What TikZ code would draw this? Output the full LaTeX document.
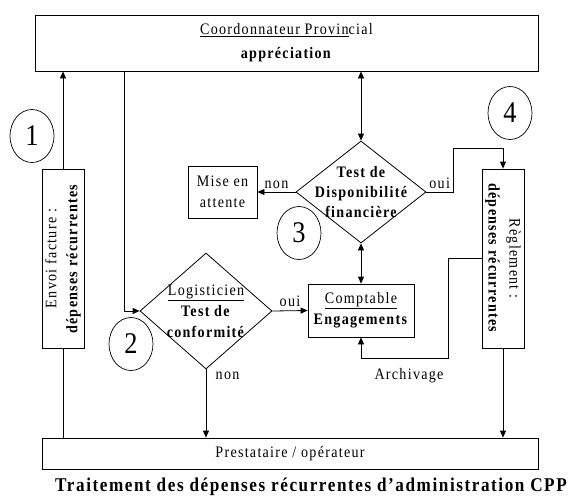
\documentclass[tikz,border=0pt]{standalone}
\usepackage{fontspec}
\setmainfont{Liberation Serif}[FakeStretch=0.88,LetterSpace=8]
\usetikzlibrary{shapes.geometric,arrows.meta}

\begin{document}
\begin{tikzpicture}[x=1pt,y=-1pt,
  every node/.style={font=\fontsize{16}{21}\selectfont},
  box/.style={draw,line width=0.8pt,inner sep=0pt,align=center},
  decision/.style={draw,diamond,line width=0.8pt,inner sep=0pt},
  num/.style={draw,ellipse,line width=0.7pt,minimum width=44pt,minimum height=53pt,inner sep=0pt,font=\fontsize{30}{30}\selectfont},
  flow/.style={line width=0.8pt,-{Triangle[length=7pt,width=6pt]}},
  dflow/.style={line width=0.8pt,{Triangle[length=7pt,width=6pt]}-{Triangle[length=7pt,width=6pt]}},
  link/.style={line width=0.8pt}]
\useasboundingbox (0,0) rectangle (574,499);

% boxes
\node[box,minimum width=503pt,minimum height=56pt] (coord) at (286.5,43)
  {\underline{Coordonnateur Provin}cial\\[3pt]\textbf{appréciation}};
\node[box,rotate=90,minimum width=179pt,minimum height=42pt] (envoi) at (63,258.5)
  {Envoi facture :\\\textbf{dépenses récurrentes}};
\node[box,rotate=-90,minimum width=179pt,minimum height=42pt] (regl) at (503,258.5)
  {Règlement :\\\textbf{dépenses récurrentes}};
\node[box,minimum width=69pt,minimum height=52pt] (mise) at (222.5,192) {Mise en\\attente};
\node[box,minimum width=106pt,minimum height=53pt] (compt) at (361,310.5)
  {\underline{Comptable}\\\textbf{Engagements}};
\node[box,minimum width=496pt,minimum height=31pt] (presta) at (290,453.5) {Prestataire / opérateur};

% tests
\node[decision,minimum width=132pt,minimum height=116pt] (logist) at (206,311) {};
\node[align=center] (logistT) at (logist) {\underline{Logisticien}\\\textbf{Test de}\\\textbf{conformité}};
\node[decision,minimum width=130pt,minimum height=102pt] (disp) at (361,192) {};
\node[align=center,font=\fontsize{16}{20}\selectfont\bfseries] (dispT) at (disp) {Test de\\Disponibilité\\financière};

% numbered steps
\foreach \n/\x/\y in {1/32/136, 2/131/344, 3/299/233, 4/510/113}
  \node[num] (c\n) at (\x,\y) {\n};

% connectors (envoi: east = top, west = bottom; regl: west = top, east = bottom, south = left)
\coordinate (tap) at (124,71);
\coordinate (oui4) at (453,148);
\coordinate (arch) at (448,358);
\draw[flow] (envoi.east) -- (envoi.east |- coord.south);
\draw[link] (envoi.west) -- (envoi.west |- presta.north);
\draw[flow] (tap) |- (logist.west);
\draw[dflow] (disp.north |- coord.south) -- (disp.north);
\draw[flow] (disp.west) -- node[above] (nonD) {non} (mise.east);
\draw[flow] (disp.east) -- node[above] (ouiD) {oui} (oui4 |- disp.east) -- (oui4) -| (regl.west);
\draw[dflow] (disp.south) -- (compt.north);
\draw[flow] (logist.east) -- node[above] (ouiL) {oui} (compt.west);
\draw[flow] (logist.south) -- node[pos=0.1,right,xshift=6pt] (nonL) {non} (logist.south |- presta.north);
\draw[flow] (regl.east) -- (regl.east |- presta.north);
\draw[flow] (regl.south) -| (arch) -| (compt.south);
\node (archT) at (409,376) {Archivage};

% caption
\node[font=\fontsize{19.5}{20}\selectfont\bfseries] (title) at (311,487)
  {Traitement des dépenses récurrentes d'administration CPP};
\end{tikzpicture}
\end{document}
